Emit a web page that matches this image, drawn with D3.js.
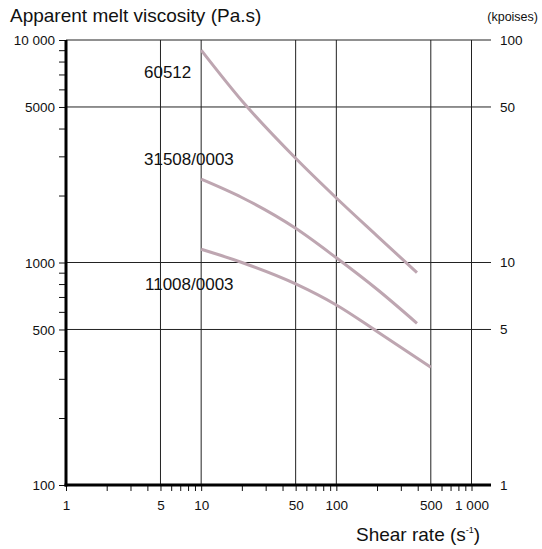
<!DOCTYPE html>
<html>
<head>
<meta charset="utf-8">
<script src="https://cdn.jsdelivr.net/npm/d3@7"></script>
<style>
  html, body { margin: 0; padding: 0; background: #fff; }
  svg { display: block; font-family: "Liberation Sans", Arial, Helvetica, sans-serif; }
</style>
</head>
<body>
<svg id="chart" width="542" height="549"></svg>
<script>
// ---- data ----
const seriesNames = ["60512", "31508/0003", "11008/0003"];
const shear60512 = [10, 20, 50, 100, 200, 395];
const visc60512  = [9000, 5330, 2940, 1950, 1318, 900];
const shear31508 = [10, 20, 50, 100, 200, 395];
const visc31508  = [2370, 1960, 1425, 1050, 758, 533];
const shear11008 = [10, 20, 50, 100, 200, 500];
const visc11008  = [1147, 1000, 801, 644, 490, 338];

const xTickValues = [1,2,3,4,5,6,7,8,9,10,20,30,40,50,60,70,80,90,100,200,300,400,500,600,700,800,900,1000];
const xLabelValues = [1, 5, 10, 50, 100, 500, 1000];
const xLabelTexts = ["1", "5", "10", "50", "100", "500", "1 000"];
const xGridValues = [5, 10, 50, 100, 500, 1000];

const yTickValues = [100,200,300,400,500,600,700,800,900,1000,2000,3000,4000,5000,6000,7000,8000,9000,10000];
const yLabelValues = [100, 500, 1000, 5000, 10000];
const yLabelTexts = ["100", "500", "1000", "5000", "10 000"];
const yGridValues = [500, 1000, 5000, 10000];
const kpoiseValues = [100, 50, 10, 5, 1];
const kpoiseTexts = ["100", "50", "10", "5", "1"];

(function () {
// ---- layout ----
const svg = d3.select("#chart");
const pLeft = 66, pRight = 491, pTop = 40, pBottom = 485;
const x = d3.scaleLog().domain([1, 1000]).range([pLeft, 471.5]);
const y = d3.scaleLog().domain([100, 10000]).range([pBottom, pTop]);
const lineColor = "#bea6b1";

// grid
const grid = svg.append("g");
grid.selectAll("line.v").data(xGridValues).join("line").attr("class", "v")
  .attr("x1", d => x(d)).attr("x2", d => x(d))
  .attr("y1", pTop).attr("y2", pBottom)
  .attr("stroke", "#222").attr("stroke-width", 1);
grid.selectAll("line.h").data(yGridValues).join("line").attr("class", "h")
  .attr("x1", pLeft).attr("x2", pRight)
  .attr("y1", d => y(d)).attr("y2", d => y(d))
  .attr("stroke", "#222").attr("stroke-width", 1);

// curves
const series = [
  {name: seriesNames[0], xs: shear60512, ys: visc60512},
  {name: seriesNames[1], xs: shear31508, ys: visc31508},
  {name: seriesNames[2], xs: shear11008, ys: visc11008}
];
const line = d3.line().x(d => x(d[0])).y(d => y(d[1])).curve(d3.curveMonotoneX);
svg.append("g").selectAll("path").data(series).join("path")
  .attr("d", s => line(s.xs.map((v, i) => [v, s.ys[i]])))
  .attr("fill", "none").attr("stroke", lineColor).attr("stroke-width", 3)
  .attr("stroke-linecap", "butt");

// curve labels
const labelPos = [[144, 78], [144, 165], [145, 290]];
svg.append("g").selectAll("text").data(seriesNames).join("text")
  .attr("x", (d, i) => labelPos[i][0]).attr("y", (d, i) => labelPos[i][1])
  .attr("font-size", 17).attr("fill", "#111").text(d => d);

// left axis
const yAxis = d3.axisLeft(y).tickValues(yTickValues).tickSize(7).tickSizeOuter(0).tickPadding(4)
  .tickFormat(d => { const i = yLabelValues.indexOf(d); return i >= 0 ? yLabelTexts[i] : ""; });
const gy = svg.append("g").attr("transform", `translate(${pLeft},0)`).call(yAxis);
gy.select(".domain").remove();
gy.selectAll(".tick line").attr("stroke", "#111").attr("stroke-width", 1);
gy.selectAll(".tick text").attr("font-size", 13.5).attr("fill", "#111")
  .attr("font-family", "'Liberation Sans', Arial, sans-serif").attr("dy", "0.34em");

// bottom axis
const xAxis = d3.axisBottom(x).tickValues(xTickValues).tickSize(6).tickSizeOuter(0).tickPadding(9)
  .tickFormat(d => { const i = xLabelValues.indexOf(d); return i >= 0 ? xLabelTexts[i] : ""; });
const gx = svg.append("g").attr("transform", `translate(0,${pBottom})`).call(xAxis);
gx.select(".domain").remove();
gx.selectAll(".tick line").attr("stroke", "#111").attr("stroke-width", 1);
gx.selectAll(".tick text").attr("font-size", 13.5).attr("fill", "#111")
  .attr("font-family", "'Liberation Sans', Arial, sans-serif");

// thick axis lines
svg.append("line").attr("x1", pLeft).attr("x2", pLeft).attr("y1", pTop).attr("y2", pBottom + 1.5)
  .attr("stroke", "#000").attr("stroke-width", 3);
svg.append("line").attr("x1", pLeft - 1.5).attr("x2", pRight).attr("y1", pBottom).attr("y2", pBottom)
  .attr("stroke", "#000").attr("stroke-width", 3);

// right kpoise labels
svg.append("g").selectAll("text").data(kpoiseValues).join("text")
  .attr("x", 500).attr("y", d => y(d * 100)).attr("dy", "0.34em")
  .attr("font-size", 13.5).attr("fill", "#111").text((d, i) => kpoiseTexts[i]);

// titles
svg.append("text").attr("x", 10).attr("y", 22).attr("font-size", 19).attr("fill", "#111")
  .text("Apparent melt viscosity (Pa.s)");
svg.append("text").attr("x", 538).attr("y", 21).attr("text-anchor", "end")
  .attr("font-size", 12.5).attr("fill", "#111").text("(kpoises)");
const xt = svg.append("text").attr("x", 356).attr("y", 540.5).attr("font-size", 19).attr("fill", "#111");
xt.append("tspan").text("Shear rate (s");
xt.append("tspan").attr("font-size", 9).attr("dy", -8).text("-1");
xt.append("tspan").attr("dy", 8).text(")");
})();
</script>
</body>
</html>
